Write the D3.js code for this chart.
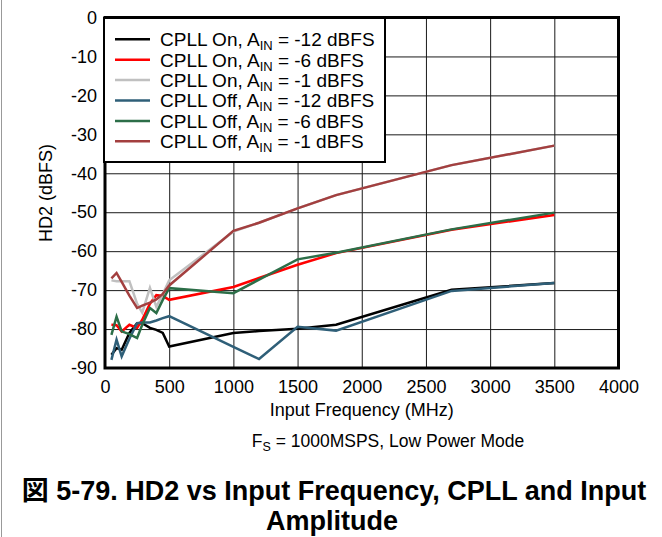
<!DOCTYPE html>
<html>
<head>
<meta charset="utf-8">
<script src="https://cdn.jsdelivr.net/npm/d3@7"></script>
<style>
body { margin: 0; background: #fff; }
svg text { font-family: "Liberation Sans", Arial, "Noto Sans CJK JP", sans-serif; fill: #000; }
</style>
</head>
<body>
<div id="chart-area"></div>
<script>
// input frequencies in MHz (same for every curve)
var freqs = [50, 90, 130, 190, 250, 290, 350, 400, 450, 500, 1000, 1200, 1500, 1800, 2700, 3500];

// HD2 in dBFS
var onM12  = [-86.6, -84.9, -85.3, -81.0, -78.5, -78.5, -79.7, -80.2, -81.0, -84.5, -81.0, -80.5, -79.9, -78.9, -69.9, -68.2];
var onM6   = [-78.9, -79.0, -80.6, -78.9, -79.7, -77.6, -73.5, -71.3, -71.5, -72.5, -69.2, -66.9, -63.5, -60.5, -54.5, -50.7];
var onM1   = [-67.5, -67.7, -67.7, -67.7, -73.5, -75.8, -69.4, -74.3, -71.0, -67.5, -55.0, -52.7, -49.0, -45.6, -37.9, -32.9];
var offM12 = [-87.9, -82.7, -87.0, -82.5, -78.5, -78.3, -78.3, -77.8, -77.2, -76.7, -84.6, -87.7, -79.4, -80.4, -70.2, -68.2];
var offM6  = [-81.5, -76.8, -80.6, -81.3, -82.3, -78.9, -74.6, -75.9, -72.5, -69.5, -70.8, -67.3, -62.1, -60.4, -54.4, -50.1];
var offM1  = [-67.0, -65.6, -67.9, -71.4, -74.6, -74.0, -73.2, -72.4, -71.0, -68.8, -54.8, -52.7, -49.0, -45.6, -37.9, -32.9];

var cpllMode = ["On", "On", "On", "Off", "Off", "Off"];
var ampIn = ["-12", "-6", "-1", "-12", "-6", "-1"];
var colors = ["#000000", "#ff0000", "#c0c0c0", "#2f5f78", "#2c6e48", "#a33f3f"];

var xTicks = [0, 500, 1000, 1500, 2000, 2500, 3000, 3500, 4000];
var yTicks = [0, -10, -20, -30, -40, -50, -60, -70, -80, -90];

var allSeries = [onM12, onM6, onM1, offM12, offM6, offM1];

// note: "top" is taken by window.top, so use other names
var plotLeft = 105, plotTop = 17.5;
var width = 513.5, height = 350.5;

var svg = d3.select('#chart-area').append('svg')
    .attr('width', 662)
    .attr('height', 537);

// thin gray frame edge on the left of the figure
svg.append('line')
    .attr('x1', 1.5).attr('x2', 1.5)
    .attr('y1', 0).attr('y2', 537)
    .attr('stroke', '#999')
    .attr('stroke-width', 1);

var g = svg.append('g')
    .attr('transform', 'translate(' + plotLeft + ',' + plotTop + ')');

var theX = d3.scaleLinear()
    .domain([0, 4000])
    .range([0, width]);

var theY = d3.scaleLinear()
    .domain([-90, 0])
    .range([height, 0]);

// plain hyphen minus like the original, no thousands comma
var plainNum = function(d) { return String(d); };

// axes double as the grid
var axisX = d3.axisBottom(theX)
    .tickValues(xTicks)
    .tickFormat(plainNum)
    .tickSizeInner(-height)
    .tickSizeOuter(0)
    .tickPadding(12);
var gx = g.append('g')
    .attr('class', 'labels labels-x')
    .attr('transform', 'translate(0,' + height + ')')
    .call(axisX);

var axisY = d3.axisLeft(theY)
    .tickValues(yTicks)
    .tickFormat(plainNum)
    .tickSizeInner(-width)
    .tickSizeOuter(0)
    .tickPadding(8);
var gy = g.append('g')
    .attr('class', 'labels labels-y')
    .call(axisY);

[gx, gy].forEach(function(ax) {
    ax.select('.domain').remove();
    ax.selectAll('.tick line')
        .attr('stroke', '#1a1a1a')
        .attr('stroke-width', 1);
    ax.selectAll('.tick text')
        .attr('font-size', 18)
        .attr('fill', '#000');
});

// curves
var line = d3.line()
    .x(function(d) { return theX(d[0]); })
    .y(function(d) { return theY(d[1]); });

allSeries.forEach(function(vals, i) {
    var pts = freqs.map(function(f, j) { return [f, vals[j]]; });
    g.append('path')
        .datum(pts)
        .attr('d', line)
        .attr('fill', 'none')
        .attr('stroke', colors[i])
        .attr('stroke-width', 2.5);
});

// heavy plot border
g.append('rect')
    .attr('x', 0).attr('y', 0)
    .attr('width', width).attr('height', height)
    .attr('fill', 'none')
    .attr('stroke', '#000')
    .attr('stroke-width', 3);

// legend box
var leg = svg.append('g')
    .attr('transform', 'translate(104,18)');
leg.append('rect')
    .attr('width', 281)
    .attr('height', 144)
    .attr('fill', '#fff')
    .attr('stroke', '#000')
    .attr('stroke-width', 2);

cpllMode.forEach(function(m, i) {
    var yy = 21.3 + i * 20.4;
    leg.append('line')
        .attr('x1', 11).attr('x2', 46)
        .attr('y1', yy).attr('y2', yy)
        .attr('stroke', colors[i])
        .attr('stroke-width', 2.5);
    var t = leg.append('text')
        .attr('x', 56)
        .attr('y', yy + 6.8)
        .attr('font-size', 19);
    t.append('tspan').text('CPLL ' + m + ', A');
    t.append('tspan').attr('font-size', 13).attr('dy', 4).text('IN');
    t.append('tspan').attr('dy', -4).text(' = ' + ampIn[i] + ' dBFS');
});

// axis titles
svg.append('text')
    .attr('x', plotLeft + width / 2)
    .attr('y', 415.5)
    .attr('text-anchor', 'middle')
    .attr('font-size', 18)
    .text('Input Frequency (MHz)');

svg.append('text')
    .attr('transform', 'translate(51.5,193) rotate(-90)')
    .attr('text-anchor', 'middle')
    .attr('font-size', 18)
    .text('HD2 (dBFS)');

// conditions line
var sub = svg.append('text')
    .attr('x', 388)
    .attr('y', 447)
    .attr('text-anchor', 'middle')
    .attr('font-size', 17.5);
sub.append('tspan').text('F');
sub.append('tspan').attr('font-size', 12.5).attr('dy', 4).text('S');
sub.append('tspan').attr('dy', -4).text(' = 1000MSPS, Low Power Mode');

// figure caption
svg.append('text')
    .attr('x', 334)
    .attr('y', 500)
    .attr('text-anchor', 'middle')
    .attr('font-size', 27)
    .attr('font-weight', 'bold')
    .text('図 5-79. HD2 vs Input Frequency, CPLL and Input');
svg.append('text')
    .attr('x', 332)
    .attr('y', 530)
    .attr('text-anchor', 'middle')
    .attr('font-size', 27)
    .attr('font-weight', 'bold')
    .text('Amplitude');
</script>
</body>
</html>
